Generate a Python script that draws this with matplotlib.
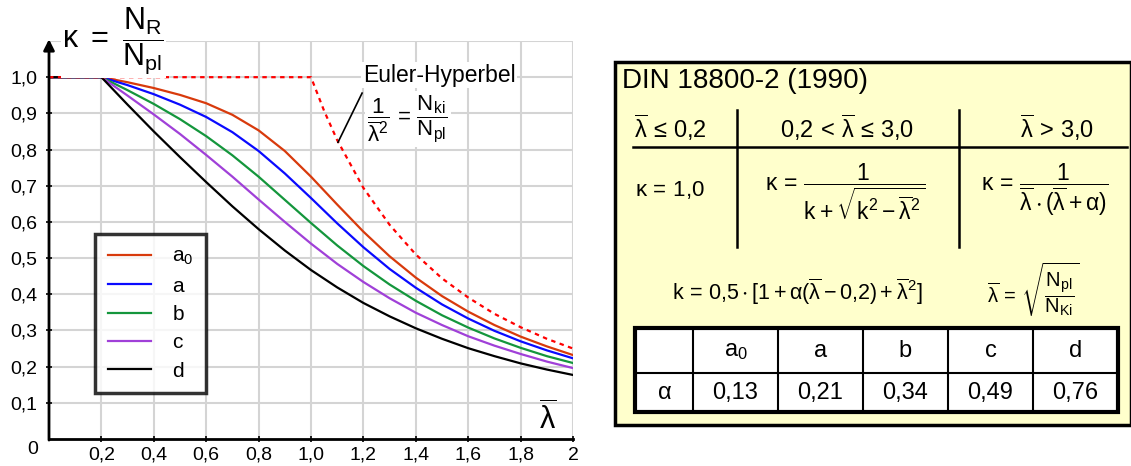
import matplotlib
matplotlib.use("Agg")
import matplotlib.pyplot as plt
from matplotlib.patches import Rectangle

plt.rcParams['font.family'] = ['Liberation Sans', 'DejaVu Sans']
plt.rcParams['mathtext.fontset'] = 'custom'
plt.rcParams['mathtext.rm'] = 'Liberation Sans'
plt.rcParams['mathtext.it'] = 'Liberation Sans'
plt.rcParams['mathtext.sf'] = 'Liberation Sans'
plt.rcParams['mathtext.default'] = 'regular'

# buckling curves
lam = [0, 0.2, 0.3, 0.4, 0.5, 0.6, 0.7, 0.8, 0.9, 1.0, 1.1,
       1.2, 1.3, 1.4, 1.5, 1.6, 1.7, 1.8, 1.9, 2.0]
kappa_a0 = [1.0, 1.0, 0.986, 0.970, 0.951, 0.928, 0.896, 0.853, 0.796, 0.725, 0.648,
            0.573, 0.505, 0.446, 0.395, 0.352, 0.315, 0.283, 0.256, 0.232]
kappa_a = [1.0, 1.0, 0.978, 0.953, 0.924, 0.890, 0.848, 0.796, 0.734, 0.666, 0.596,
           0.530, 0.470, 0.418, 0.372, 0.333, 0.299, 0.270, 0.245, 0.223]
kappa_b = [1.0, 1.0, 0.964, 0.926, 0.884, 0.837, 0.784, 0.725, 0.661, 0.597, 0.535,
           0.478, 0.427, 0.382, 0.342, 0.308, 0.278, 0.252, 0.229, 0.210]
kappa_c = [1.0, 1.0, 0.949, 0.897, 0.843, 0.785, 0.725, 0.662, 0.600, 0.540, 0.484,
           0.434, 0.389, 0.349, 0.315, 0.284, 0.258, 0.235, 0.214, 0.196]
kappa_d = [1.0, 1.0, 0.924, 0.850, 0.779, 0.710, 0.643, 0.580, 0.521, 0.467, 0.419,
           0.376, 0.339, 0.306, 0.277, 0.251, 0.229, 0.209, 0.192, 0.177]

lam_euler = [0, 1.0, 1.05, 1.1, 1.2, 1.3, 1.4, 1.5, 1.6, 1.7, 1.8, 1.9, 2.0]
kappa_euler = [1.0, 1.0, 0.907, 0.826, 0.694, 0.592, 0.510, 0.444, 0.391, 0.346,
               0.309, 0.277, 0.250]

curve_names = ['a0', 'a', 'b', 'c', 'd']
curve_labels = ['$a_0$', 'a', 'b', 'c', 'd']
curve_colors = ['#d83a0c', '#0a0aff', '#14963c', '#a040d8', '#000000']
alphas = [0.13, 0.21, 0.34, 0.49, 0.76]

xticks = [0.2, 0.4, 0.6, 0.8, 1.0, 1.2, 1.4, 1.6, 1.8, 2.0]
xtick_labels = ['0,2', '0,4', '0,6', '0,8', '1,0', '1,2', '1,4', '1,6', '1,8', '2']
yticks = [0.1, 0.2, 0.3, 0.4, 0.5, 0.6, 0.7, 0.8, 0.9, 1.0]
ytick_labels = ['0,1', '0,2', '0,3', '0,4', '0,5', '0,6', '0,7', '0,8', '0,9', '1,0']

LB = r'\overline{\lambda}'

W, H = 1131, 466
fig = plt.figure(figsize=(W / 100, H / 100), dpi=100)

# ---------- left: buckling curves ----------
ax = fig.add_axes([49 / W, 1 - 439 / H, (573 - 49) / W, (439 - 41) / H])
ax.set_xlim(0, 2)
ax.set_ylim(0, 1.1)
for v in xticks:
    ax.axvline(v, color='#d4d4d4', lw=1.5, zorder=0)
for v in yticks + [1.1]:
    ax.axhline(v, color='#d4d4d4', lw=1.5, zorder=0)

all_kappa = [kappa_a0, kappa_a, kappa_b, kappa_c, kappa_d]
for ys, lab, col in zip(all_kappa, curve_labels, curve_colors):
    ax.plot(lam, ys, color=col, lw=1.6, label=lab, zorder=3)
ax.plot(lam_euler, kappa_euler, color='#ff0000', lw=1.6, ls=(0, (2, 2)), zorder=4)

for s in ['top', 'right', 'left']:
    ax.spines[s].set_visible(False)
ax.spines['bottom'].set_linewidth(2)
ax.annotate('', xy=(0, 1.105), xytext=(0, -0.003), annotation_clip=False,
            arrowprops=dict(arrowstyle='-|>', color='k', lw=2, mutation_scale=16,
                            shrinkA=0, shrinkB=0), zorder=5)

ax.set_xticks(xticks)
ax.set_xticklabels(xtick_labels)
ax.set_yticks(yticks)
ax.set_yticklabels(ytick_labels)
ax.tick_params(axis='both', direction='inout', length=5, width=1.2, labelsize=14,
               colors='k')
ax.tick_params(axis='x', pad=3)
ax.tick_params(axis='y', pad=6)
ax.text(-0.04, -0.028, '0', fontsize=14, ha='right', va='center', clip_on=False)

ax.text(0.05, 1.1, r'$\kappa\ =\ \dfrac{N_R}{N_{pl}}$', fontsize=22, ha='left',
        va='center', clip_on=False, zorder=6,
        bbox=dict(facecolor='white', edgecolor='none', pad=1))
ax.text(1.905, 0.055, r'$' + LB + '$', fontsize=22, ha='center', va='center',
        zorder=6)

ax.text(1.489, 1.006, 'Euler-Hyperbel', fontsize=16.5, ha='center', va='center',
        zorder=6, bbox=dict(facecolor='white', edgecolor='none', pad=1))
ax.text(1.37, 0.885, r'$\dfrac{1}{' + LB + r'^2}\, =\, \dfrac{N_{ki}}{N_{pl}}$',
        fontsize=16, ha='center', va='center', zorder=6,
        bbox=dict(facecolor='white', edgecolor='none', pad=2))
ax.plot([1.103, 1.195], [0.820, 0.956], color='k', lw=1.2, zorder=7)

leg = ax.legend(loc='upper left', bbox_to_anchor=(0.088, 0.514), fontsize=15,
                frameon=True, fancybox=False, handlelength=2.1, handletextpad=1.0,
                labelspacing=0.45, borderpad=0.6, borderaxespad=0)
leg.get_frame().set_edgecolor('k')
leg.get_frame().set_linewidth(2.5)
leg.set_zorder(7)

# ---------- right: DIN 18800-2 panel ----------
rp = fig.add_axes([615 / W, 1 - 425 / H, (W - 615) / W, (425 - 62) / H])
rp.set_xlim(615, W)
rp.set_ylim(425, 62)
rp.axis('off')
rp.add_patch(Rectangle((615, 62), W - 615, 425 - 62, facecolor='#ffffcc',
                       edgecolor='k', lw=2.5, clip_on=False))

S = r'\,'
rp.text(622, 81, 'DIN 18800-2 (1990)', fontsize=20, ha='left', va='center')
rp.text(670, 128, r'$' + LB + S + r'\leq' + S + r'0{,}2$', fontsize=17,
        ha='center', va='center')
rp.text(847, 128, r'$0{,}2' + S + '<' + S + LB + S + r'\leq' + S + r'3{,}0$',
        fontsize=17, ha='center', va='center')
rp.text(1057, 128, r'$' + LB + S + '>' + S + r'3{,}0$', fontsize=17,
        ha='center', va='center')
rp.plot([633, 1127], [147, 147], color='k', lw=1.8)
rp.plot([737, 737], [110, 247], color='k', lw=1.8)
rp.plot([959, 959], [110, 247], color='k', lw=1.8)

rp.text(670, 190, r'$\kappa' + S + '=' + S + r'1{,}0$', fontsize=16,
        ha='center', va='center')
rp.text(845, 192, r'$\kappa' + S + '=' + S + r'\dfrac{1}{k + \sqrt{k^2 - ' + LB + r'^2}}$',
        fontsize=16.5, ha='center', va='center')
rp.text(1045, 190, r'$\kappa' + S + '=' + S + r'\dfrac{1}{' + LB + r'\cdot(' + LB
        + r' + \alpha)}$', fontsize=16.5, ha='center', va='center')

rp.text(797, 292, r'$k' + S + '=' + S + r'0{,}5 \cdot [1 + \alpha(' + LB
        + r' - 0{,}2) + ' + LB + r'^2]$', fontsize=15.5, ha='center', va='center')
rp.text(1033, 290, r'$' + LB + S + '=' + S + r'\sqrt{\dfrac{N_{pl}}{N_{Ki}}}$',
        fontsize=14.5, ha='center', va='center')

# alpha table
col_edges = [635, 693, 778, 863, 948, 1033, 1118]
row_edges = [328, 373, 412]
rp.add_patch(Rectangle((col_edges[0], row_edges[0]), col_edges[-1] - col_edges[0],
                       row_edges[-1] - row_edges[0], facecolor='white',
                       edgecolor='k', lw=3))
rp.plot([col_edges[0], col_edges[-1]], [row_edges[1], row_edges[1]], color='k', lw=1.5)
for xe in col_edges[1:-1]:
    rp.plot([xe, xe], [row_edges[0], row_edges[-1]], color='k', lw=1.5)
rp.text((col_edges[0] + col_edges[1]) / 2, 393, r'$\alpha$', fontsize=17,
        ha='center', va='center')
for i, (lab, a) in enumerate(zip(curve_labels, alphas)):
    xc = (col_edges[i + 1] + col_edges[i + 2]) / 2
    rp.text(xc, 351, lab, fontsize=17, ha='center', va='center')
    rp.text(xc, 393, f'{a:.2f}'.replace('.', ','), fontsize=17, ha='center',
            va='center')

fig.savefig('out.png', dpi=100)
